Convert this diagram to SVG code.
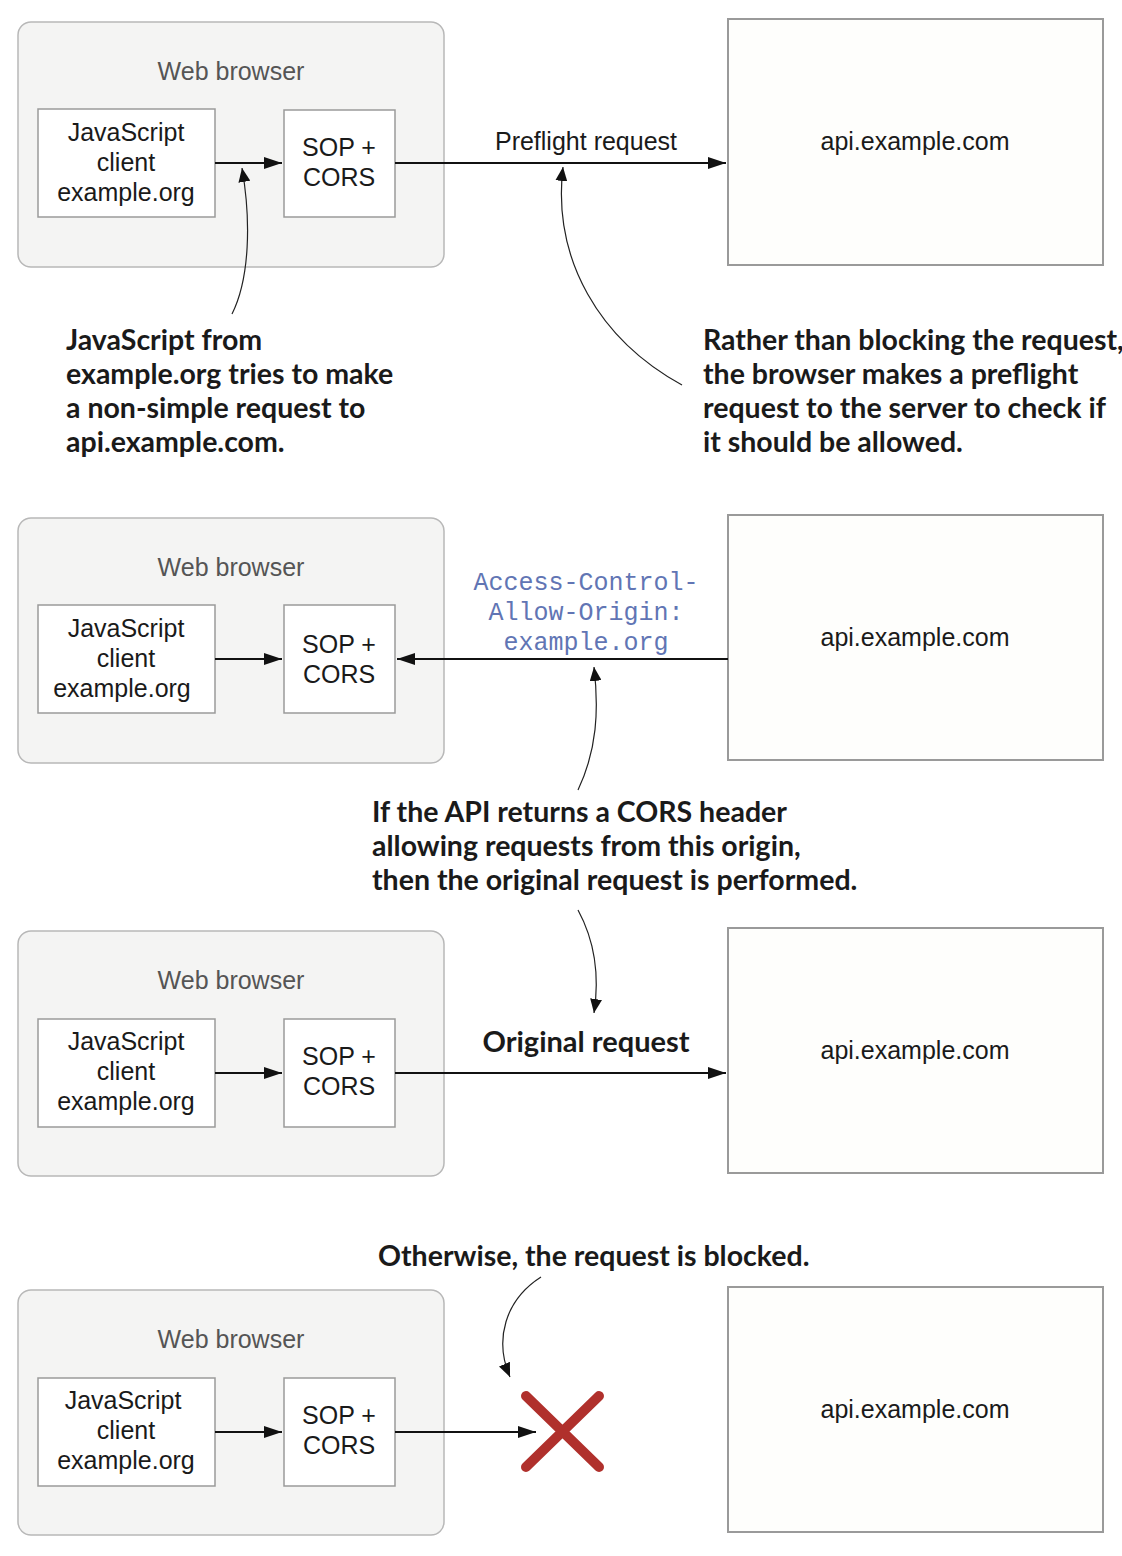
<svg xmlns="http://www.w3.org/2000/svg" width="1122" height="1556" viewBox="0 0 1122 1556">
<style>
.bg{fill:#ffffff}
.browser{fill:#f4f4f3;stroke:#b8b8b8;stroke-width:1.5}
.box{fill:#ffffff;stroke:#9a9a9a;stroke-width:1.5}
.api{fill:#fefefc;stroke:#9a9a9a;stroke-width:2}
.wb{font-family:"Liberation Sans",Arial,sans-serif;font-size:25px;fill:#555555;text-anchor:middle}
.t{font-family:"Liberation Sans",Arial,sans-serif;font-size:25px;fill:#1a1a1a;text-anchor:middle}
.note{font-family:Lato,"Open Sans",sans-serif;font-weight:bold;font-size:28.5px;fill:#1a1a1a}
.mono{font-family:"Liberation Mono","Courier New",monospace;font-size:25px;fill:#6175b4;text-anchor:middle}
.conn{stroke:#111111;stroke-width:2;fill:none}
.curve{stroke:#222222;stroke-width:1.2;fill:none}
</style>
<defs>
<marker id="ah" markerUnits="userSpaceOnUse" markerWidth="18" markerHeight="12" refX="18" refY="6" orient="auto">
<path d="M0,0 L18,6 L0,12 Z" fill="#111111"/>
</marker>
<marker id="ahs" markerUnits="userSpaceOnUse" markerWidth="14" markerHeight="12" refX="14" refY="6" orient="auto">
<path d="M0,0 L14,6 L0,12 Z" fill="#111111"/>
</marker>
</defs>
<rect class="bg" x="0" y="0" width="1122" height="1556"/>

<!-- Panel 1 -->
<g id="browser1">
<rect class="browser" x="18" y="22" width="426" height="245" rx="13"/>
<text class="wb" x="231" y="80">Web browser</text>
</g>
<g id="js1">
<rect class="box" x="38" y="109" width="177" height="108"/>
<text class="t" x="126" y="141">JavaScript</text>
<text class="t" x="126" y="171">client</text>
<text class="t" x="126" y="201">example.org</text>
</g>
<g id="sop1">
<rect class="box" x="284" y="110" width="111" height="107"/>
<text class="t" x="339" y="156">SOP +</text>
<text class="t" x="339" y="186">CORS</text>
</g>
<g id="api1">
<rect class="api" x="728" y="19" width="375" height="246"/>
<text class="t" x="915" y="150">api.example.com</text>
</g>
<g id="note1">
<text class="note" x="66" y="350">JavaScript from</text>
<text class="note" x="66" y="384">example.org tries to make</text>
<text class="note" x="66" y="418">a non-simple request to</text>
<text class="note" x="66" y="452">api.example.com.</text>
</g>
<g id="note2">
<text class="note" x="703" y="350">Rather than blocking the request,</text>
<text class="note" x="703" y="384">the browser makes a preflight</text>
<text class="note" x="703" y="418">request to the server to check if</text>
<text class="note" x="703" y="452">it should be allowed.</text>
</g>

<!-- Panel 2 -->
<g id="browser2">
<rect class="browser" x="18" y="518" width="426" height="245" rx="13"/>
<text class="wb" x="231" y="576">Web browser</text>
</g>
<g id="js2">
<rect class="box" x="38" y="605" width="177" height="108"/>
<text class="t" x="126" y="637">JavaScript</text>
<text class="t" x="126" y="667">client</text>
<text class="t" x="122" y="697">example.org</text>
</g>
<g id="sop2">
<rect class="box" x="284" y="605" width="111" height="108"/>
<text class="t" x="339" y="653">SOP +</text>
<text class="t" x="339" y="683">CORS</text>
</g>
<g id="api2">
<rect class="api" x="728" y="515" width="375" height="245"/>
<text class="t" x="915" y="646">api.example.com</text>
</g>
<g id="note3">
<text class="note" x="372" y="822">If the API returns a CORS header</text>
<text class="note" x="372" y="856">allowing requests from this origin,</text>
<text class="note" x="372" y="890">then the original request is performed.</text>
</g>

<!-- Panel 3 -->
<g id="browser3">
<rect class="browser" x="18" y="931" width="426" height="245" rx="13"/>
<text class="wb" x="231" y="989">Web browser</text>
</g>
<g id="js3">
<rect class="box" x="38" y="1019" width="177" height="108"/>
<text class="t" x="126" y="1050">JavaScript</text>
<text class="t" x="126" y="1080">client</text>
<text class="t" x="126" y="1110">example.org</text>
</g>
<g id="sop3">
<rect class="box" x="284" y="1019" width="111" height="108"/>
<text class="t" x="339" y="1065">SOP +</text>
<text class="t" x="339" y="1095">CORS</text>
</g>
<g id="api3">
<rect class="api" x="728" y="928" width="375" height="245"/>
<text class="t" x="915" y="1059">api.example.com</text>
</g>
<g id="note4">
<text class="note" x="378" y="1266">Otherwise, the request is blocked.</text>
</g>

<!-- Panel 4 -->
<g id="browser4">
<rect class="browser" x="18" y="1290" width="426" height="245" rx="13"/>
<text class="wb" x="231" y="1348">Web browser</text>
</g>
<g id="js4">
<rect class="box" x="38" y="1378" width="177" height="108"/>
<text class="t" x="123" y="1409">JavaScript</text>
<text class="t" x="126" y="1439">client</text>
<text class="t" x="126" y="1469">example.org</text>
</g>
<g id="sop4">
<rect class="box" x="284" y="1378" width="111" height="108"/>
<text class="t" x="339" y="1424">SOP +</text>
<text class="t" x="339" y="1454">CORS</text>
</g>
<g id="api4">
<rect class="api" x="728" y="1287" width="375" height="245"/>
<text class="t" x="915" y="1418">api.example.com</text>
</g>
<g id="blocked">
<path d="M526,1396 L599,1467 M599,1396 L526,1467" stroke="#b0302c" stroke-width="10" stroke-linecap="round" fill="none"/>
</g>

<!-- Connectors -->
<g id="connectors">
<line class="conn" x1="215" y1="163" x2="282" y2="163" marker-end="url(#ah)"/>
<line class="conn" x1="395" y1="163" x2="726" y2="163" marker-end="url(#ah)"/>
<text class="t" x="586" y="150">Preflight request</text>
<path class="curve" d="M232,314 C250,278 251,220 242,168" marker-end="url(#ahs)"/>
<path class="curve" d="M682,385 C600,340 552,260 563,167" marker-end="url(#ahs)"/>

<line class="conn" x1="215" y1="659" x2="282" y2="659" marker-end="url(#ah)"/>
<line class="conn" x1="728" y1="659" x2="397" y2="659" marker-end="url(#ah)"/>
<text class="mono" x="586" y="590">Access-Control-</text>
<text class="mono" x="586" y="620">Allow-Origin:</text>
<text class="mono" x="586" y="650">example.org</text>
<path class="curve" d="M578,790 C597,750 599,710 594,667" marker-end="url(#ahs)"/>

<path class="curve" d="M578,910 C597,945 599,980 594,1013" marker-end="url(#ahs)"/>
<line class="conn" x1="215" y1="1073" x2="282" y2="1073" marker-end="url(#ah)"/>
<line class="conn" x1="395" y1="1073" x2="726" y2="1073" marker-end="url(#ah)"/>
<text class="note" x="586" y="1052" text-anchor="middle" style="font-size:29px">Original request</text>

<path class="curve" d="M541,1277 C505,1300 494,1340 510,1377" marker-end="url(#ahs)"/>
<line class="conn" x1="215" y1="1432" x2="282" y2="1432" marker-end="url(#ah)"/>
<line class="conn" x1="395" y1="1432" x2="536" y2="1432" marker-end="url(#ah)"/>
</g>
</svg>
